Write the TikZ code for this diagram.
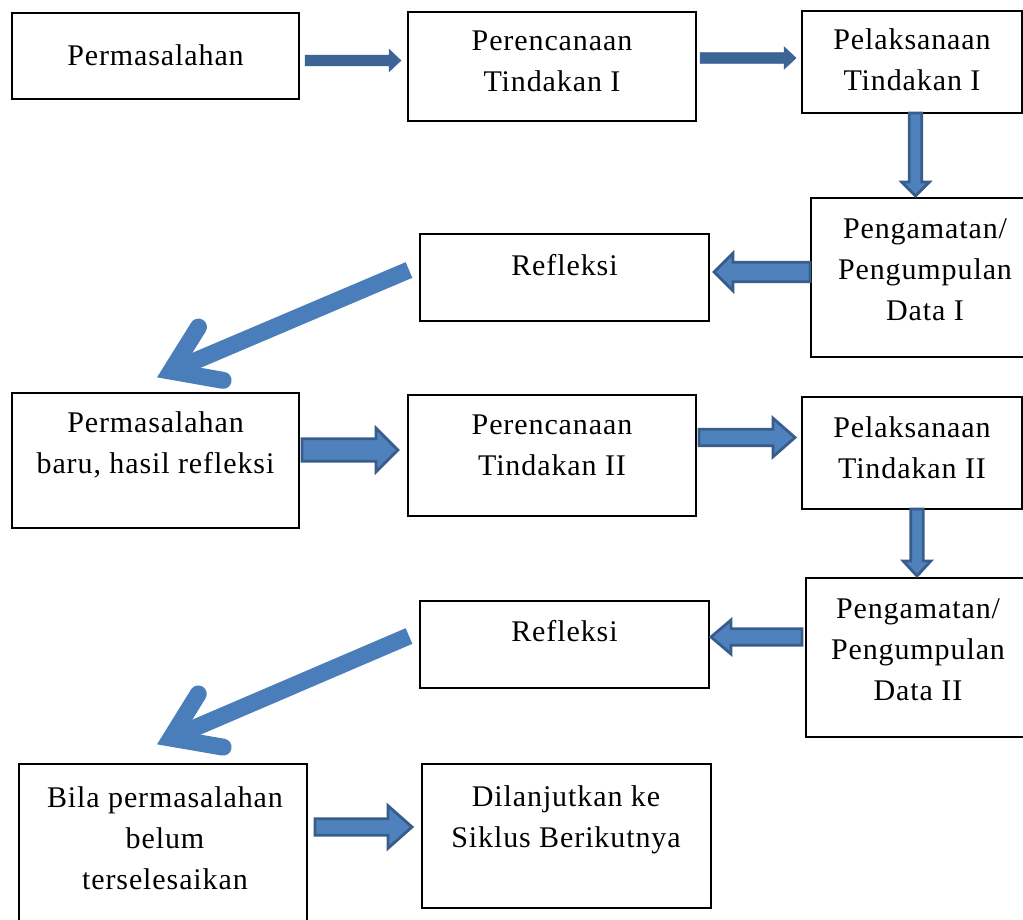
\documentclass[tikz,border=0pt]{standalone}
\usepackage{fontspec}
\setmainfont{Liberation Serif}[LetterSpace=3]
\usetikzlibrary{calc}
\definecolor{afill}{HTML}{4F81BD}
\definecolor{aline}{HTML}{385D8A}
\definecolor{dline}{HTML}{4A7EBB}
\definecolor{thinblue}{HTML}{3C6494}
\tikzset{
  box/.style={draw=black, line width=1.6pt, anchor=north west, inner sep=0pt, outer sep=0pt},
  txt/.style={align=center, font=\fontsize{30}{41}\selectfont, inner sep=0pt},
  blockarrow/.style={fill=afill, draw=aline, line width=2.8pt, line join=miter},
  thinarrow/.style={fill=thinblue, draw=thinblue, line width=0.5pt, line join=miter},
  diagshaft/.style={draw=dline, line width=17pt},
  diaghead/.style={draw=dline, line width=17pt, line cap=round, line join=miter, miter limit=10},
}
% #1 style, #2 start, #3 tip, #4 shaft half width, #5 head half width, #6 head length
\newcommand\blockarr[6]{%
  \coordinate (bah) at ($(#3)!#6!(#2)$);
  \path[#1] ($(#2)!#4!90:(#3)$) -- ($(bah)!#4!90:(#3)$) -- ($(bah)!#5!90:(#3)$) -- (#3)
     -- ($(bah)!#5!-90:(#3)$) -- ($(bah)!#4!-90:(#3)$) -- ($(#2)!#4!-90:(#3)$) -- cycle;
}
% #1 start, #2 tip
\newcommand\diagarrow[2]{%
  \coordinate (#2v) at ($(#2)!20pt!(#1)$);
  \draw[diagshaft] (#1) -- (#2v);
  \draw[diaghead] ($(#2v)!52pt!35:(#1)$) -- (#2v) -- ($(#2v)!53pt!-33:(#1)$);
}
\begin{document}
\begin{tikzpicture}[x=1pt,y=-1pt]
\fill[white] (0,0) rectangle (1023,920);
\clip (0,0) rectangle (1023,920);

% boxes
\node[box, minimum width=287pt, minimum height=86pt]  (b1)  at (12,13)   {};
\node[box, minimum width=288pt, minimum height=109pt] (b2)  at (408,12)  {};
\node[box, minimum width=220pt, minimum height=102pt] (b3)  at (802,11)  {};
\node[box, minimum width=229pt, minimum height=159pt] (b4)  at (811,198) {};
\node[box, minimum width=289pt, minimum height=87pt]  (b5)  at (420,234) {};
\node[box, minimum width=287pt, minimum height=135pt] (b6)  at (12,393)  {};
\node[box, minimum width=288pt, minimum height=121pt] (b7)  at (408,395) {};
\node[box, minimum width=220pt, minimum height=112pt] (b8)  at (802,397) {};
\node[box, minimum width=224pt, minimum height=159pt] (b9)  at (806,578) {};
\node[box, minimum width=289pt, minimum height=87pt]  (b10) at (420,601) {};
\node[box, minimum width=288pt, minimum height=166pt] (b11) at (19,764)  {};
\node[box, minimum width=289pt, minimum height=144pt] (b12) at (422,764) {};

% texts
\node[txt] (t1)  at (155.5,55)  {Permasalahan};
\node[txt] (t2)  at (552,61)    {Perencanaan\\Tindakan I};
\node[txt] (t3)  at (912,60)    {Pelaksanaan\\Tindakan I};
\node[txt] (t4)  at (925,270)   {Pengamatan/\\Pengumpulan\\Data I};
\node[txt] (t5)  at (564.5,265) {Refleksi};
\node[txt] (t6)  at (155.5,445) {Permasalahan\\baru, hasil refleksi};
\node[txt] (t7)  at (552,445)   {Perencanaan\\Tindakan II};
\node[txt] (t8)  at (912,448)   {Pelaksanaan\\Tindakan II};
\node[txt] (t9)  at (918,650)   {Pengamatan/\\Pengumpulan\\Data II};
\node[txt] (t10) at (564.5,631) {Refleksi};
\node[txt] (t11) at (165,838)   {Bila permasalahan\\belum\\terselesaikan};
\node[txt] (t12) at (566,820)   {Dilanjutkan ke\\Siklus Berikutnya};

% connector end points
\coordinate (a1s) at ($(b1.east)+(6,4.5)$);
\coordinate (a1t) at ($(b2.west)+(-7,-6)$);
\coordinate (a2s) at ($(b2.east)+(4,-8.5)$);
\coordinate (a2t) at ($(b3.west)+(-6,-4)$);
\coordinate (c1s) at ($(b3.south)+(3.5,0)$);
\coordinate (c1t) at ($(b4.north)+(-10,-2)$);
\coordinate (c2s) at ($(b4.west)+(-1,-5.5)$);
\coordinate (c2t) at ($(b5.east)+(5,-5.5)$);
\coordinate (c3s) at ($(b6.east)+(3,-10.5)$);
\coordinate (c3t) at ($(b7.west)+(-10,-5.5)$);
\coordinate (c4s) at ($(b7.east)+(3,-18)$);
\coordinate (c4t) at ($(b8.west)+(-7,-15.5)$);
\coordinate (c5s) at ($(b8.south)+(5,0)$);
\coordinate (c5t) at ($(b9.north)+(-1,-2)$);
\coordinate (c6s) at ($(b9.west)+(-4,-20.5)$);
\coordinate (c6t) at ($(b10.east)+(2,-7.5)$);
\coordinate (c7s) at ($(b11.east)+(8,-20)$);
\coordinate (c7t) at ($(b12.west)+(-10,-9)$);
\coordinate (d1s) at ($(b5.west)+(-11,-7.5)$);
\coordinate (d1t) at ($(b6.north)+(-3,-14)$);
\coordinate (d2s) at ($(b10.west)+(-11,-8.5)$);
\coordinate (d2t) at ($(b11.north)+(-10.5,-18)$);

% thin arrows (row 1)
\blockarr{thinarrow}{a1s}{a1t}{5.3pt}{11.3pt}{12pt}
\blockarr{thinarrow}{a2s}{a2t}{5.3pt}{11.3pt}{12pt}

% block arrows
\blockarr{blockarrow}{c1s}{c1t}{6.3pt}{13.8pt}{14pt}
\blockarr{blockarrow}{c2s}{c2t}{9.8pt}{18.8pt}{19pt}
\blockarr{blockarrow}{c3s}{c3t}{11.3pt}{21.8pt}{22pt}
\blockarr{blockarrow}{c4s}{c4t}{8.3pt}{19.3pt}{22pt}
\blockarr{blockarrow}{c5s}{c5t}{6.3pt}{13.8pt}{15pt}
\blockarr{blockarrow}{c6s}{c6t}{8.3pt}{17pt}{20pt}
\blockarr{blockarrow}{c7s}{c7t}{8.3pt}{21.3pt}{24pt}

% diagonal arrows
\diagarrow{d1s}{d1t}
\diagarrow{d2s}{d2t}
\end{tikzpicture}
\end{document}
